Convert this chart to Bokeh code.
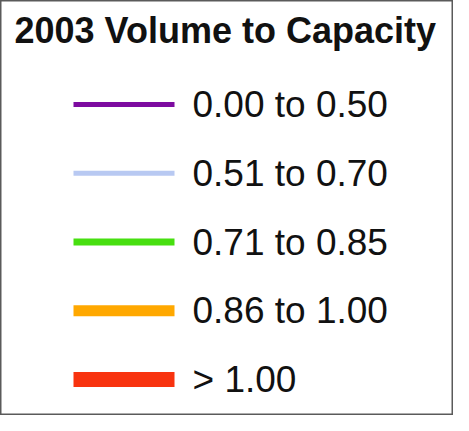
from bokeh.plotting import figure
from bokeh.models import ColumnDataSource, Range1d
from bokeh.core.properties import value
from bokeh.embed import file_html
from bokeh.resources import INLINE

# Data
title = "2003 Volume to Capacity"
classes = ["0.00 to 0.50", "0.51 to 0.70", "0.71 to 0.85", "0.86 to 1.00", "> 1.00"]

# Styles
colors = ["#7d0ba0", "#b8c9f2", "#47df10", "#ffa800", "#f8330f"]
widths = [5, 5, 7, 11, 15]

W, H = 453, 415
p = figure(width=W, height=H, output_backend="svg", toolbar_location=None,
           x_range=Range1d(8, 8 + W), y_range=Range1d(8 + H, 8),
           min_border=0, background_fill_color="white",
           border_fill_color="white")
p.axis.visible = False
p.grid.visible = False
p.outline_line_color = "#5a5a5a"
p.outline_line_width = 2

row0, step = 112, 68.75
ys = [row0 + i * step for i in range(len(classes))]
src = ColumnDataSource(dict(y=ys, ty=[y for y in ys], label=classes,
                            color=colors, w=widths))
p.segment(x0=81, x1=182, y0="y", y1="y", line_color="color", line_width="w",
          line_cap="butt", source=src)
p.text(x=200, y="ty", text="label", text_font=value("Liberation Sans"),
       text_font_size="37px", text_color="#111111", text_baseline="alphabetic",
       source=src)
p.text(x=[22], y=[38], text=[title], text_font=value("Liberation Sans"),
       text_font_size="36px", text_font_style="bold", text_color="#111111",
       text_baseline="alphabetic")

open("out.html", "w").write(file_html(p, INLINE))
